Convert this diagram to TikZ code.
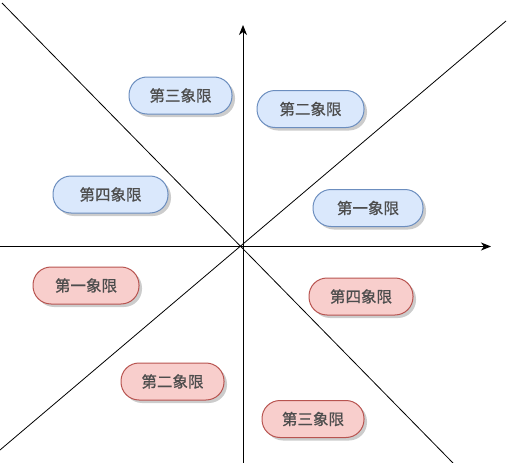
\documentclass[tikz,border=0pt]{standalone}
\usepackage{fontspec}
\newfontfamily\cjk[FakeBold=0.8]{Noto Sans CJK SC}
\usetikzlibrary{arrows.meta,shadows}
\definecolor{bluefill}{HTML}{DAE8FC}
\definecolor{bluedraw}{HTML}{6C8EBF}
\definecolor{redfill}{HTML}{F8CECC}
\definecolor{reddraw}{HTML}{B85450}
\definecolor{labeltext}{HTML}{4D4D4D}

\begin{document}
\begin{tikzpicture}[x=1pt, y=-1pt,
    quadrant/.style ={rectangle, rounded corners=18pt, line width=1pt,
      minimum height=37pt, inner xsep=0pt, font=\cjk\fontsize{15.5}{18}\selectfont,
      text=labeltext, drop shadow={shadow xshift=3pt, shadow yshift=-3pt, fill=black!40, opacity=0.5}},
    upper/.style ={quadrant, fill=bluefill, draw=bluedraw},
    lower/.style ={quadrant, fill=redfill, draw=reddraw},
    axis/.style ={line width=1pt, -{Stealth[length=10pt, width=8pt, inset=3pt]}}]
   \useasboundingbox (0,0) rectangle (507,463);

   % axes and diagonals
   \coordinate (O) at (243,246.5);
   \coordinate (xs) at (0,246.5);
   \coordinate (xe) at (491,246.5);
   \coordinate (ys) at (243,463);
   \coordinate (ye) at (243,25);
   \coordinate (d1) at (2,3);
   \coordinate (d2) at (453,463);
   \coordinate (d3) at (506,21);
   \coordinate (d4) at (0,450);

   \draw[line width=0.8pt] (d1) to (d2);
   \draw[line width=0.8pt] (d3) to (d4);
   \draw[axis] (xs) to (xe);
   \draw[axis] (ys) to (ye);

   % upper half
   \node[upper, minimum width=103pt] (U3) at (180.5,95.5)  {第三象限};
   \node[upper, minimum width=107pt] (U2) at (310.5,109)  {第二象限};
   \node[upper, minimum width=115pt] (U4) at (110.5,194.5)  {第四象限};
   \node[upper, minimum width=110pt] (U1) at (368,208)  {第一象限};

   % lower half
   \node[lower, minimum width=106pt] (L1) at (86,285.5)  {第一象限};
   \node[lower, minimum width=104pt] (L4) at (361,296.5)  {第四象限};
   \node[lower, minimum width=103pt] (L2) at (172.5,381.5)  {第二象限};
   \node[lower, minimum width=102pt] (L3) at (313,419)  {第三象限};
 \end{tikzpicture}
\end{document}
